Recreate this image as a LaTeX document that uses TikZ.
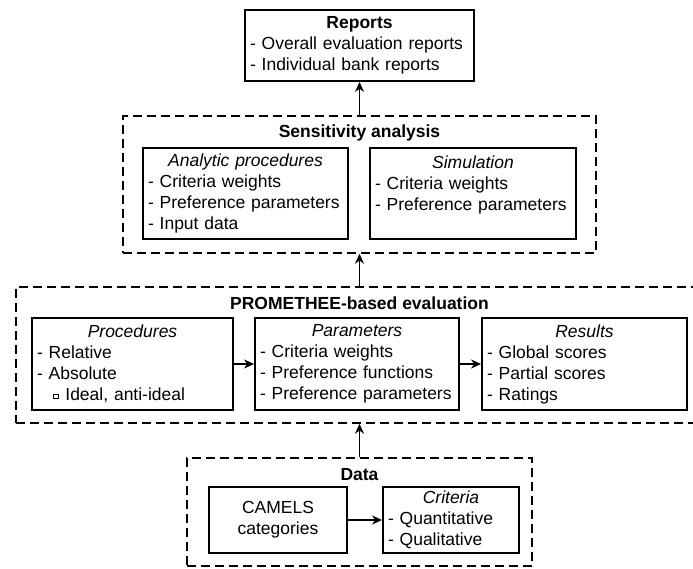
\documentclass[tikz,border=0pt]{standalone}
\usepackage{fontspec}
\setmainfont{Liberation Sans}
\usetikzlibrary{arrows.meta}

% small hollow square used as a sub-bullet
\newcommand{\subsq}{\raisebox{2.5pt}{\fboxsep=0pt\fboxrule=0.7pt\fbox{\rule{0pt}{4pt}\hspace{4pt}}}}
% centred heading line inside a left-aligned box
\newcommand{\boxhead}[1]{\makebox[\hsize]{#1}}

\begin{document}
\begin{tikzpicture}[x=1pt,y=-1pt,
  txt/.style={font=\fontsize{17.5}{21}\selectfont},
  solidbox/.style={txt,draw,line width=1.9pt,rectangle,inner xsep=5pt,inner ysep=0pt,
    align=left,text width=#1-10pt,minimum width=#1},
  groupbox/.style={draw,line width=1.5pt,dash pattern=on 9pt off 5pt,rectangle,inner sep=0pt},
  grouptitle/.style={txt,font=\fontsize{17.5}{21}\selectfont\bfseries,inner sep=0pt},
  arr/.style={line width=1.5pt,-{Stealth[length=10pt,width=9pt]}}
]
\useasboundingbox (0,0) rectangle (693,568);
\clip (0,0) rectangle (693,568);

% ---- Reports ----
\node[solidbox=229pt,minimum height=71pt] (reports) at (359.5,45.5)
  {\boxhead{\bfseries Reports}\\- Overall evaluation reports\\- Individual bank reports};

% ---- Sensitivity analysis ----
\node[groupbox,minimum width=473pt,minimum height=137pt] (sens) at (359.5,184.5) {};
\node[grouptitle] (senstitle) at (359.5,133) {Sensitivity analysis};
\node[solidbox=205pt,minimum height=91pt] (analytic) at (245.5,193.5)
  {\boxhead{\itshape Analytic procedures}\\- Criteria weights\\- Preference parameters\\- Input data};
\node[solidbox=206pt,minimum height=91pt] (simul) at (473,193.5)
  {\boxhead{\itshape Simulation}\\- Criteria weights\\- Preference parameters\\\mbox{}};

% ---- PROMETHEE-based evaluation ----
\node[groupbox,minimum width=687pt,minimum height=136pt] (prom) at (359.5,355) {};
\node[grouptitle] (promtitle) at (359.5,303) {PROMETHEE-based evaluation};
\node[solidbox=201pt,minimum height=92pt] (proc) at (132.5,364)
  {\boxhead{\itshape Procedures}\\- Relative\\- Absolute\\\hspace*{16pt}\subsq\hspace{7pt}Ideal, anti-ideal};
\node[solidbox=204pt,minimum height=92pt] (param) at (357,364)
  {\boxhead{\itshape Parameters}\\- Criteria weights\\- Preference functions\\- Preference parameters};
\node[solidbox=205pt,minimum height=92pt] (results) at (584.5,364)
  {\boxhead{\itshape Results}\\- Global scores\\- Partial scores\\- Ratings};

% ---- Data ----
\node[groupbox,minimum width=345pt,minimum height=108pt] (data) at (359.5,512) {};
\node[grouptitle] (datatitle) at (359.5,475) {Data};
\node[txt,draw,line width=1.9pt,rectangle,align=center,minimum width=138pt,minimum height=66pt,inner sep=0pt] (camels) at (278,520)
  {CAMELS\\categories};
\node[solidbox=136pt,minimum height=66pt] (crit) at (451,520)
  {\boxhead{\itshape Criteria}\\- Quantitative\\- Qualitative};

% ---- connectors ----
\draw[arr] (sens.north) -- (reports.south);
\draw[arr] (prom.north) -- (sens.south);
\draw[arr] (data.north) -- (prom.south);
\draw[arr] (proc.east) -- (param.west);
\draw[arr] (param.east) -- (results.west);
\draw[arr] (camels.east) -- (crit.west);
\end{tikzpicture}
\end{document}
